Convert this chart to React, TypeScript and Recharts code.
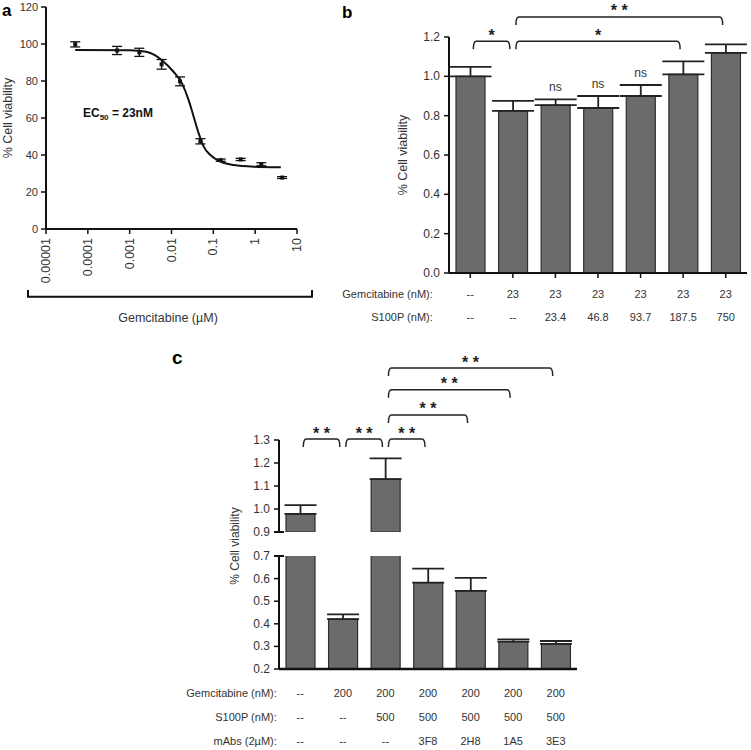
import {
  Bar,
  BarChart,
  ComposedChart,
  ErrorBar,
  Line,
  ReferenceDot,
  ReferenceLine,
  Scatter,
  XAxis,
  YAxis,
} from "recharts";

const FONT = '"Liberation Sans", Arial, Helvetica, sans-serif';
const TEXT = "#333";
const INK = "#111";
const BAR_FILL = "#6b6b6b";
const BAR_EDGE = "#2e2e2e";

// panel a - dose response to gemcitabine (uM)
const doseConc = [0.00005, 0.0005, 0.0017, 0.0058, 0.016, 0.049, 0.15, 0.45, 1.4, 4.4];
const doseViability = [99.8, 96.5, 95.5, 89, 79.8, 47.4, 37.2, 37.6, 35, 27.8];
const doseErr = [1.4, 2.2, 2.2, 2.6, 2.4, 1.4, 0.6, 0.6, 0.8, 0.5];
const fitConc = [0.00005, 0.001, 0.0025, 0.004, 0.0058, 0.0112, 0.0178, 0.0257, 0.0339, 0.0447, 0.0589, 0.0851, 0.148, 0.309, 0.933, 4.1];
const fitViability = [96.8, 96.6, 95.8, 94, 91.4, 85, 78.7, 69.7, 60.7, 51.7, 44.5, 40, 36.4, 34.6, 33.7, 33.4];
const logTicks = [0.00001, 0.0001, 0.001, 0.01, 0.1, 1, 10];
const logTickLabels = ["0.00001", "0.0001", "0.001", "0.01", "0.1", "1", "10"];
const pctTicks = [0, 20, 40, 60, 80, 100, 120];

// panel b - S100P rescue at 23 nM gemcitabine
const gemB = ["--", "23", "23", "23", "23", "23", "23"];
const s100pB = ["--", "--", "23.4", "46.8", "93.7", "187.5", "750"];
const viabB = [1.0, 0.824, 0.854, 0.839, 0.9, 1.01, 1.119];
const errB = [0.048, 0.051, 0.029, 0.061, 0.056, 0.066, 0.044];
const nsB = ["", "", "ns", "ns", "ns", "", ""];
const ticksB = [0, 0.2, 0.4, 0.6, 0.8, 1.0, 1.2];
const bracketsB = [
  { from: 0, to: 1, level: 1.178, label: "*" },
  { from: 1, to: 5, level: 1.178, label: "*" },
  { from: 1, to: 6, level: 1.302, label: "* *" },
];

// panel c - blocking antibodies at 200 nM gemcitabine
const gemC = ["--", "200", "200", "200", "200", "200", "200"];
const s100pC = ["--", "--", "500", "500", "500", "500", "500"];
const mabC = ["--", "--", "--", "3F8", "2H8", "1A5", "3E3"];
const viabC = [0.979, 0.421, 1.13, 0.582, 0.546, 0.321, 0.311];
const errC = [0.038, 0.021, 0.09, 0.062, 0.057, 0.01, 0.013];
const ticksCTop = [0.9, 1.0, 1.1, 1.2, 1.3];
const ticksCBottom = [0.2, 0.3, 0.4, 0.5, 0.6, 0.7];
const bracketsC = [
  { from: 0, to: 1, level: 1.304, label: "* *" },
  { from: 1, to: 2, level: 1.304, label: "* *" },
  { from: 2, to: 3, level: 1.304, label: "* *" },
  { from: 2, to: 4, level: 1.409, label: "* *" },
  { from: 2, to: 5, level: 1.518, label: "* *" },
  { from: 2, to: 6, level: 1.613, label: "* *" },
];

const pointsA = doseConc.map((x, i) => ({ x, y: doseViability[i], err: doseErr[i] }));
const fitA = fitConc.map((x, i) => ({ x, y: fitViability[i] }));

const keysB = gemB.map((g, i) => `${g}/${s100pB[i]}`);
const dataB = keysB.map((key, i) => ({ key, v: viabB[i], e: [0, errB[i]] }));

const keysC = gemC.map((g, i) => `${g}/${s100pC[i]}/${mabC[i]}`);
const dataC = keysC.map((key, i) => ({
  key,
  top: viabC[i] >= 0.9 ? viabC[i] : null,
  topErr: viabC[i] >= 0.9 ? [0, errC[i]] : null,
  bottom: viabC[i],
  bottomErr: viabC[i] <= 0.7 ? [0, errC[i]] : null,
}));

const LogTick = (p: any) => {
  const { x, y, index } = p;
  return (
    <text
      x={x}
      y={y}
      transform={`rotate(-90 ${x} ${y})`}
      textAnchor="end"
      dominantBaseline="central"
      fontSize={12.5}
      fill={TEXT}
    >
      {logTickLabels[index]}
    </text>
  );
};

const ValueTick = (p: any) => {
  const { x, y, payload, gap, breakAt, fontSize, digits } = p;
  const v = payload?.value ?? 0;
  const axisX = x + gap;
  return (
    <g>
      <text x={x} y={y} textAnchor="end" dominantBaseline="central" fontSize={fontSize} fill={TEXT}>
        {digits ? v.toFixed(digits) : v}
      </text>
      {breakAt !== undefined && Math.abs(v - breakAt) < 1e-6 && (
        <line x1={axisX - 5} x2={axisX + 5} y1={y} y2={y} stroke={INK} strokeWidth={2} />
      )}
    </g>
  );
};

const RowTick = (p: any) => {
  const { x, y, index, rows, rowY, headers, headerDx } = p;
  return (
    <g fontSize={11} fill={TEXT}>
      {rows.map((row: string[], r: number) => (
        <text key={r} x={x} y={y + rowY[r]} textAnchor="middle" dominantBaseline="central">
          {row[index]}
        </text>
      ))}
      {index === 0 &&
        headers.map((h: string, r: number) => (
          <text key={`h${r}`} x={x + headerDx} y={y + rowY[r]} textAnchor="end" dominantBaseline="central">
            {h}
          </text>
        ))}
    </g>
  );
};

const bracketShape = (label: string) => (p: any) => {
  const xa = p.x1 + 3;
  const xb = p.x2 - 3;
  const y = p.y1;
  return (
    <g>
      <path
        d={`M${xa},${y + 8} Q${xa},${y} ${xa + 3},${y} L${xb - 3},${y} Q${xb},${y} ${xb},${y + 8}`}
        fill="none"
        stroke="#222"
        strokeWidth={1.5}
      />
      <text x={(xa + xb) / 2} y={y - 0.5} textAnchor="middle" fontSize={16} fontWeight="bold" fill="#222">
        {label}
      </text>
    </g>
  );
};

const axisLine = { stroke: INK, strokeWidth: 2 };
const tickLine = { stroke: INK, strokeWidth: 1.5 };

const App = () => {
  return (
    <div
      style={{
        position: "absolute",
        left: 0,
        top: 0,
        width: 751,
        height: 750,
        background: "#fff",
        fontFamily: FONT,
      }}
    >
      <div style={{ position: "absolute", left: 0, top: 0 }}>
        <ComposedChart width={330} height={330} margin={{ top: 7, right: 33, bottom: 0, left: 0 }}>
          <XAxis
            type="number"
            dataKey="x"
            scale="log"
            domain={[0.00001, 10]}
            allowDataOverflow
            ticks={logTicks}
            interval={0}
            height={101}
            tickSize={5}
            tickMargin={4}
            axisLine={axisLine}
            tickLine={tickLine}
            tick={LogTick}
          />
          <YAxis
            type="number"
            dataKey="y"
            domain={[0, 120]}
            ticks={pctTicks}
            interval={0}
            width={46}
            tickSize={5}
            tickMargin={3}
            axisLine={axisLine}
            tickLine={tickLine}
            tick={(p: any) => <ValueTick {...p} gap={8} fontSize={11} />}
            label={{
              value: "% Cell viability",
              angle: -90,
              position: "insideLeft",
              offset: 8,
              fill: TEXT,
              style: { textAnchor: "middle", fontSize: 12.5 },
            }}
          />
          <Line
            data={fitA}
            dataKey="y"
            type="monotone"
            stroke={INK}
            strokeWidth={2}
            dot={false}
            isAnimationActive={false}
          />
          <Scatter
            data={pointsA}
            fill={INK}
            isAnimationActive={false}
            shape={(s: any) => <rect x={s.cx - 2} y={s.cy - 2} width={4} height={4} fill={INK} />}
          >
            <ErrorBar dataKey="err" direction="y" width={5} stroke={INK} strokeWidth={1.3} />
          </Scatter>
        </ComposedChart>
      </div>

      <div style={{ position: "absolute", left: 330, top: 0 }}>
        <BarChart
          width={421}
          height={330}
          data={dataB}
          margin={{ top: 37, right: 4, bottom: 0, left: 0 }}
          barSize={29}
        >
          <XAxis
            dataKey="key"
            height={57}
            interval={0}
            tickSize={5}
            tickMargin={0}
            axisLine={axisLine}
            tickLine={tickLine}
            tick={(p: any) => (
              <RowTick
                {...p}
                rows={[gemB, s100pB]}
                rowY={[15.6, 39]}
                headers={["Gemcitabine (nM):", "S100P (nM):"]}
                headerDx={-37.5}
              />
            )}
          />
          <YAxis
            type="number"
            domain={[0, 1.2]}
            ticks={ticksB}
            interval={0}
            width={119}
            tickSize={5}
            tickMargin={4}
            axisLine={axisLine}
            tickLine={tickLine}
            tick={(p: any) => <ValueTick {...p} gap={9} fontSize={12} digits={1} />}
            label={{
              value: "% Cell viability",
              angle: -90,
              position: "insideLeft",
              offset: 73,
              fill: TEXT,
              style: { textAnchor: "middle", fontSize: 12.5 },
            }}
          />
          <Bar dataKey="v" fill={BAR_FILL} stroke={BAR_EDGE} strokeWidth={1.2} isAnimationActive={false}>
            <ErrorBar dataKey="e" direction="y" width={21} stroke="#222" strokeWidth={1.8} />
          </Bar>
          {nsB.map((t, i) =>
            t ? (
              <ReferenceDot
                key={`ns${i}`}
                x={keysB[i]}
                y={viabB[i] + errB[i]}
                r={0}
                fill="none"
                stroke="none"
                label={{ value: t, position: "top", offset: 8, fill: TEXT, fontSize: 12 }}
              />
            ) : null
          )}
          {bracketsB.map((b, i) => (
            <ReferenceLine
              key={`bb${i}`}
              segment={[
                { x: keysB[b.from], y: b.level },
                { x: keysB[b.to], y: b.level },
              ]}
              ifOverflow="visible"
              shape={bracketShape(b.label)}
            />
          ))}
        </BarChart>
      </div>

      <div style={{ position: "absolute", left: 180, top: 340 }}>
        <BarChart
          width={400}
          height={204}
          data={dataC}
          margin={{ top: 100, right: 3, bottom: 12, left: 0 }}
          barSize={29}
        >
          <XAxis dataKey="key" hide />
          <YAxis
            type="number"
            domain={[0.9, 1.3]}
            allowDataOverflow
            ticks={ticksCTop}
            interval={0}
            width={99}
            tickSize={5}
            tickMargin={4}
            axisLine={axisLine}
            tickLine={tickLine}
            tick={(p: any) => <ValueTick {...p} gap={9} fontSize={12} digits={1} breakAt={0.9} />}
          />
          <Bar dataKey="top" fill={BAR_FILL} stroke={BAR_EDGE} strokeWidth={1.2} isAnimationActive={false}>
            <ErrorBar dataKey="topErr" direction="y" width={16} stroke="#222" strokeWidth={1.8} />
          </Bar>
          {bracketsC.map((b, i) => (
            <ReferenceLine
              key={`bc${i}`}
              segment={[
                { x: keysC[b.from], y: b.level },
                { x: keysC[b.to], y: b.level },
              ]}
              ifOverflow="visible"
              shape={bracketShape(b.label)}
            />
          ))}
        </BarChart>
      </div>

      <div style={{ position: "absolute", left: 180, top: 540 }}>
        <BarChart
          width={400}
          height={210}
          data={dataC}
          margin={{ top: 16, right: 3, bottom: 0, left: 0 }}
          barSize={29}
        >
          <XAxis
            dataKey="key"
            height={81}
            interval={0}
            tickSize={0}
            tickMargin={0}
            tickLine={false}
            axisLine={{ stroke: INK, strokeWidth: 2.5 }}
            tick={(p: any) => (
              <RowTick
                {...p}
                rows={[gemC, s100pC, mabC]}
                rowY={[23.7, 47.7, 72]}
                headers={["Gemcitabine (nM):", "S100P (nM):", "mAbs (2\u00b5M):"]}
                headerDx={-23.5}
              />
            )}
          />
          <YAxis
            type="number"
            domain={[0.2, 0.7]}
            allowDataOverflow
            ticks={ticksCBottom}
            interval={0}
            width={99}
            tickSize={5}
            tickMargin={4}
            axisLine={axisLine}
            tickLine={tickLine}
            tick={(p: any) => <ValueTick {...p} gap={9} fontSize={12} digits={1} breakAt={0.7} />}
          />
          <Bar dataKey="bottom" fill={BAR_FILL} stroke={BAR_EDGE} strokeWidth={1.2} isAnimationActive={false}>
            <ErrorBar dataKey="bottomErr" direction="y" width={16} stroke="#222" strokeWidth={1.8} />
          </Bar>
        </BarChart>
      </div>

      <svg
        width={751}
        height={750}
        style={{ position: "absolute", left: 0, top: 0, pointerEvents: "none" }}
      >
        <text x={2} y={16} fontSize={17} fontWeight="bold" fill="#000">a</text>
        <text x={342} y={18} fontSize={17} fontWeight="bold" fill="#000">b</text>
        <text x={172} y={364} fontSize={19} fontWeight="bold" fill="#000">c</text>
        <text x={83} y={117} fontSize={12} fontWeight="bold" fill="#111">
          EC
          <tspan fontSize={8} dy={3}>50</tspan>
          <tspan dy={-3}> = 23nM</tspan>
        </text>
        <path d="M28,290 L28,296.7 L312,296.7 L312,290" fill="none" stroke={INK} strokeWidth={2} />
        <text x={168} y={322} textAnchor="middle" fontSize={12.5} fill={TEXT}>
          Gemcitabine (µM)
        </text>
        <text
          x={235}
          y={546}
          transform="rotate(-90 235 546)"
          textAnchor="middle"
          dominantBaseline="central"
          fontSize={12}
          fill={TEXT}
        >
          % Cell viability
        </text>
      </svg>
    </div>
  );
};

export default App;
